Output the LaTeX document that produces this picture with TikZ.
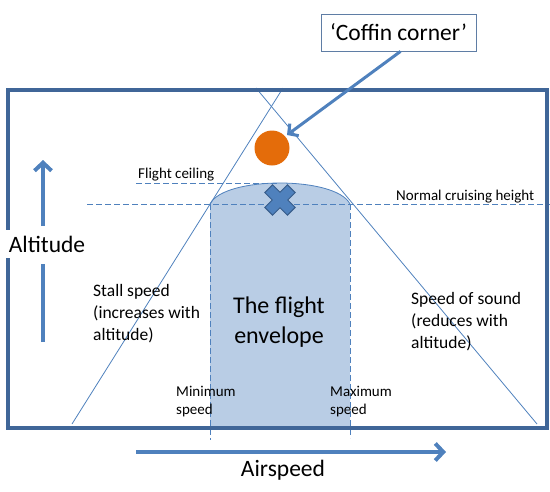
\documentclass[tikz,border=0pt]{standalone}
\usepackage{fontspec}
\setmainfont{Carlito}
\usetikzlibrary{arrows.meta}
\definecolor{frameblue}{RGB}{64,102,152}
\definecolor{lineblue}{RGB}{79,129,189}
\definecolor{envfill}{RGB}{185,205,229}
\definecolor{crossedge}{RGB}{56,93,138}
\definecolor{coffinorange}{RGB}{228,108,10}
\definecolor{boxedge}{RGB}{95,125,165}
\tikzset{
  thinline/.style={draw=lineblue, line width=0.8pt},
  dashline/.style={draw=lineblue, line width=0.8pt, dash pattern=on 6pt off 3pt},
  bigarrow/.style={draw=lineblue, line width=4pt, -{Straight Barb[length=8pt,width=17pt,line width=4pt]}},
  lbl/.style={font=\fontsize{17.5}{22}\selectfont, align=left, inner sep=0pt, text=black},
  small/.style={font=\fontsize{15}{18}\selectfont, align=left, inner sep=0pt, text=black},
  big/.style={font=\fontsize{23.5}{30}\selectfont, inner sep=0pt, text=black},
}
\begin{document}
\begin{tikzpicture}[x=1pt,y=-1pt]
\useasboundingbox (0,0) rectangle (550,491);
% envelope fill
\fill[envfill] (210,428) -- (210,204) .. controls (224,176) and (336,176) .. (350,204) -- (350,428) -- cycle;
\draw[thinline] (210,204) .. controls (224,176) and (336,176) .. (350,204);
% envelope sides
\coordinate (el1) at (210,204);
\coordinate (el2) at (210,440);
\coordinate (er1) at (350,204);
\coordinate (er2) at (350,438);
\draw[dashline] (el1) -- (el2);
\draw[dashline] (er1) -- (er2);
% stall and sound lines
\coordinate (st1) at (283,88);
\coordinate (st2) at (72,424);
\coordinate (so1) at (256,88);
\coordinate (so2) at (537,424);
\draw[thinline] (st1) -- (st2);
\draw[thinline] (so1) -- (so2);
% cruising and ceiling lines
\coordinate (cr1) at (87,204);
\coordinate (cr2) at (550,204);
\draw[dashline] (cr1) -- (cr2);
\coordinate (ce1) at (136,183);
\coordinate (ce2) at (278,183);
\draw[dashline] (ce1) -- (ce2);
% frame
\draw[frameblue, line width=4pt] (8,90) rectangle (547,428);
% Altitude label covering frame
\node[big, fill=white, inner xsep=3pt, inner ysep=6pt] (alt) at (47,244) {Altitude};
\coordinate (a1) at (43,342);
\coordinate (a2) at (43,226);
\coordinate (a3) at (43,160);
\coordinate (a4) at (43,264);
\draw[draw=lineblue, line width=4pt] (a1) -- (a4);
\draw[bigarrow] (a2) -- (a3);
% Airspeed
\coordinate (s1) at (136,452);
\coordinate (s2) at (446,452);
\draw[bigarrow] (s1) -- (s2);
\node[big] (air) at (283,470) {Airspeed};
% orange circle
\node[circle, fill=coffinorange, minimum size=35pt, inner sep=0pt] (dot) at (272,148) {};
% cross
\fill[lineblue, draw=crossedge, line width=1pt, rotate around={45:(280,200)}]
  (274.5,184) -- (285.5,184) -- (285.5,194.5) -- (296,194.5) -- (296,205.5) -- (285.5,205.5) -- (285.5,216) -- (274.5,216) -- (274.5,205.5) -- (264,205.5) -- (264,194.5) -- (274.5,194.5) -- cycle;
% coffin corner box
\node[draw=boxedge, line width=0.8pt, minimum width=155pt, minimum height=37pt, inner sep=0pt, font=\fontsize{23.5}{28}\selectfont] (coffin) at (398.5,32.5) {‘Coffin corner’};
\coordinate (ctip) at (287,135);
\coordinate (cstart) at ([xshift=2pt]coffin.south);
\draw[draw=lineblue, line width=3pt, -{Straight Barb[length=7pt,width=15pt,line width=3pt]}] (cstart) -- (ctip);
% labels
\node[small, anchor=west] (ceil) at (138,175) {Flight ceiling};
\node[small, anchor=west] (cruise) at (396,197) {Normal cruising height};
\node[lbl, anchor=north west] (stall) at (93,284) {Stall speed\\(increases with\\altitude)};
\node[lbl, anchor=north west] (sound) at (411,292) {Speed of sound\\(reduces with\\altitude)};
\node[font=\fontsize{24}{30}\selectfont, align=center, inner sep=0pt] (env) at (279,322) {The flight\\envelope};
\node[small, anchor=north west] (minsp) at (176,386) {Minimum\\speed};
\node[small, anchor=north west] (maxsp) at (330,386) {Maximum\\speed};
\end{tikzpicture}
\end{document}
